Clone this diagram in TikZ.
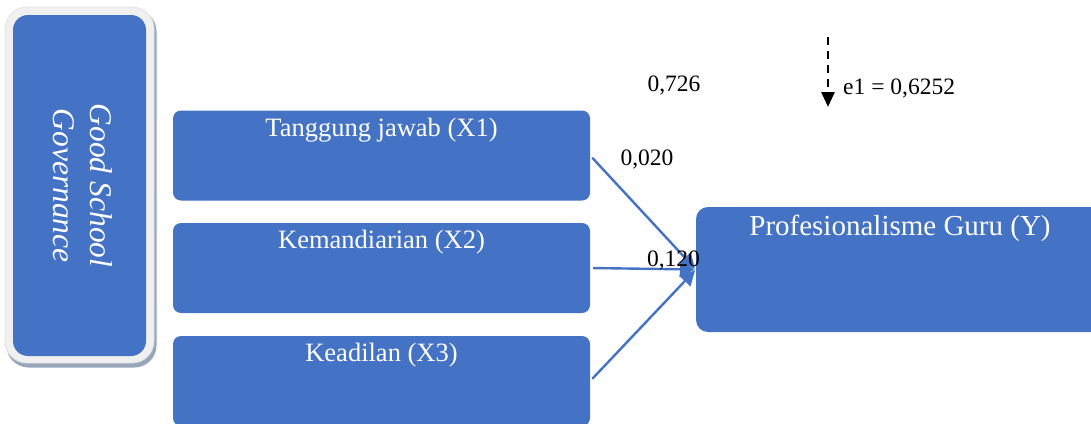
\documentclass[tikz,border=0pt]{standalone}
\usepackage{fontspec}
\setmainfont{Liberation Serif}
\usetikzlibrary{arrows.meta}
\definecolor{boxblue}{HTML}{4472C4}
\definecolor{framegray}{HTML}{F0F0F0}
\definecolor{frameedge}{HTML}{E2E2E2}
\definecolor{shadowblue}{HTML}{98A6BA}
\tikzset{
  xbox/.style={fill=boxblue, draw=none, rounded corners=8pt, minimum width=417pt,
    inner xsep=0pt, inner ysep=0pt, text height=25.5pt, text depth=64.5pt,
    text=white, font=\fontsize{26.5}{32}\selectfont},
  ybox/.style={fill=boxblue, draw=none, rounded corners=12pt, minimum width=408pt,
    inner xsep=0pt, inner ysep=0pt, text height=28pt, text depth=97pt,
    text=white, font=\fontsize{29}{35}\selectfont},
  coef/.style={text=black, inner sep=0pt, font=\fontsize{23.5}{28}\selectfont},
  path arrow/.style={draw=boxblue, line width=2.4pt, -{Triangle[length=15pt,width=15pt]},
    shorten <=3pt, shorten >=1pt},
  err arrow/.style={draw=black, line width=2.8pt, dash pattern=on 8pt off 6pt,
    -{Triangle[length=15pt,width=13pt]}}
}
\begin{document}
\begin{tikzpicture}[x=1pt,y=-1pt]
\useasboundingbox (0,0) rectangle (1091,423);
\clip (0,0) rectangle (1091,423);
% Good School Governance frame
\node (gsgshadow) [fill=shadowblue, draw=none, rounded corners=22pt,
  minimum width=150pt, minimum height=358pt, inner sep=0pt] at (81.5,188.5) {};
\node (gsgframe) [fill=framegray, draw=frameedge, line width=0.8pt, rounded corners=22pt,
  minimum width=149pt, minimum height=356pt, inner sep=0pt] at (79.5,185) {};
\node (gsg) [fill=boxblue, draw=none, rounded corners=15pt,
  minimum width=133pt, minimum height=341pt, inner sep=0pt, text=white,
  font=\fontsize{31.5}{37}\selectfont\itshape] at (79.5,185.5)
  {\rotatebox{-90}{\begin{tabular}{@{}c@{}}Good School\\[0pt]Governance\end{tabular}}};
% Indicator boxes
\node (x1) [xbox] at (381.5,155.5) {Tanggung jawab (X1)};
\node (x2) [xbox] at (381.5,268) {Kemandiarian (X2)};
\node (x3) [xbox] at (381.5,381) {Keadilan (X3)};
% Outcome box
\node (y) [ybox] at (900,269.5) {Profesionalisme Guru (Y)};
% Paths
\draw[path arrow] (x1.east) -- (y.west);
\draw[path arrow] (x2.east) -- (y.west);
\draw[path arrow] (x3.east) -- (y.west);
% Coefficients
\node (c726) [coef, anchor=base] at (674,91) {0,726};
\node (c020) [coef, anchor=base] at (647,165) {0,020};
\node (c120) [coef, anchor=base] at (673.5,266) {0,120};
% Error term
\coordinate (etop) at (828,37);
\coordinate (ebot) at (828,107);
\draw[err arrow] (etop) -- (ebot);
\node (e1) [coef, anchor=base west] at (843,94) {e1 = 0,6252};
\end{tikzpicture}
\end{document}
